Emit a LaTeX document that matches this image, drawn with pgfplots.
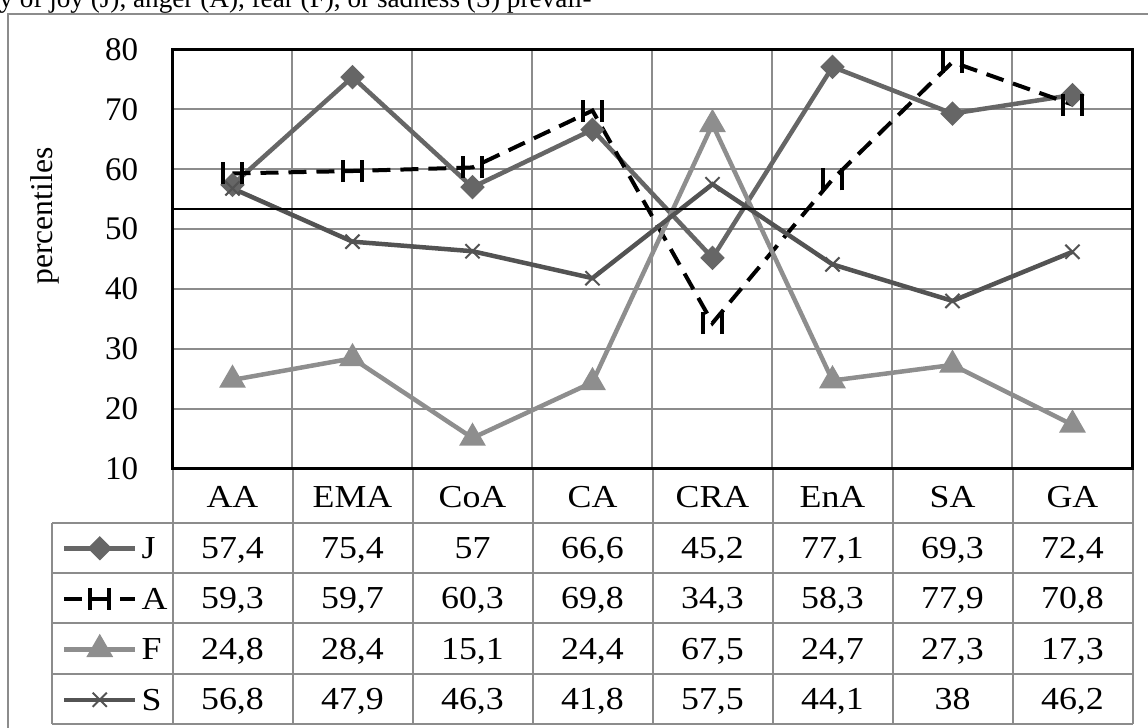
\documentclass[border=0pt]{standalone}
\usepackage{fontspec}
\setmainfont{Liberation Serif}
\newfontfamily\tabfont{Liberation Serif}[FakeStretch=1.12]
\usepackage{pgfplots}
\pgfplotsset{compat=1.18}

\definecolor{jcol}{HTML}{666666}
\definecolor{fcol}{HTML}{8E8E8E}
\definecolor{scol}{HTML}{535353}
\definecolor{gridc}{HTML}{8C8C8C}

% two short vertical bars, the way the "dash" marker of series A comes out
\pgfdeclareplotmark{bars}{%
  \pgfpathmoveto{\pgfqpoint{-0.86\pgfplotmarksize}{-\pgfplotmarksize}}%
  \pgfpathlineto{\pgfqpoint{-0.86\pgfplotmarksize}{\pgfplotmarksize}}%
  \pgfpathmoveto{\pgfqpoint{0.86\pgfplotmarksize}{-\pgfplotmarksize}}%
  \pgfpathlineto{\pgfqpoint{0.86\pgfplotmarksize}{\pgfplotmarksize}}%
  \pgfusepathqstroke}

\begin{document}
\begin{tikzpicture}
\begin{scope}[x=0.5pt,y=-0.5pt]
  \useasboundingbox (0,0) rectangle (1148,728);
  % end of the text line above the figure, cut at the top
  \node[anchor=base west, inner sep=0pt, font=\fontsize{13.6}{16}\selectfont]
    at (-1,8) {y of joy (J), anger (A), fear (F), or sadness (S) prevail-};
  % chart area frame
  \draw[gridc, line width=1pt] (8,740) -- (8,14) -- (1160,14);
  % data table grid
  \draw[gridc, line width=1pt] (52,523) -- (52,724);
  \foreach \x in {172.5,292.5,...,1132.5} \draw[gridc, line width=1pt] (\x,468.5) -- (\x,724);
  \foreach \y in {523,573,623,674,724} \draw[gridc, line width=1pt] (52,\y) -- (1132.5,\y);
  % y label
  \node[rotate=90, font=\fontsize{15.8}{18}\selectfont] at (45,216) {percentiles};
  % table text
  \begin{scope}[font=\tabfont\fontsize{16}{19}\selectfont, every node/.style={anchor=base, inner sep=0pt}]
    \foreach \c [count=\i from 0] in {AA,EMA,CoA,CA,CRA,EnA,SA,GA}
      \node at ({232.5+120*\i},507.5) {\c};
    \foreach \v [count=\i from 0] in {{57,4},{75,4},{57},{66,6},{45,2},{77,1},{69,3},{72,4}}
      \node at ({232.5+120*\i},558.8) {\v};
    \foreach \v [count=\i from 0] in {{59,3},{59,7},{60,3},{69,8},{34,3},{58,3},{77,9},{70,8}}
      \node at ({232.5+120*\i},608.8) {\v};
    \foreach \v [count=\i from 0] in {{24,8},{28,4},{15,1},{24,4},{67,5},{24,7},{27,3},{17,3}}
      \node at ({232.5+120*\i},659.3) {\v};
    \foreach \v [count=\i from 0] in {{56,8},{47,9},{46,3},{41,8},{57,5},{44,1},{38},{46,2}}
      \node at ({232.5+120*\i},709.8) {\v};
  \end{scope}
\end{scope}

\begin{axis}[
  at={(86.25pt,-234.25pt)}, anchor=south west,
  width=480pt, height=209.5pt, scale only axis,
  xmin=-0.5, xmax=7.5, ymin=10, ymax=80,
  xtick={0.5,1.5,...,6.5}, xticklabels={},
  ytick={10,20,...,80},
  xmajorgrids, ymajorgrids,
  grid style={gridc, line width=1pt},
  major tick length=0pt,
  axis line style={black, line width=1.6pt},
  tick label style={font=\fontsize{16.5}{19}\selectfont},
  yticklabel style={inner sep=0pt, xshift=-17pt},
  /pgf/number format/assume math mode=true,
  legend cell align=left,
  legend style={at={(-0.1255,-0.1301)}, anchor=north west,
    draw=none, fill=none, inner sep=0pt, outer sep=0pt,
    row sep=0pt, column sep=0pt,
    font=\tabfont\fontsize{16}{19}\selectfont,
    nodes={inner sep=0pt, inner xsep=2pt, text height=17.9pt, text depth=7.35pt}},
  legend image code/.code={%
    \path (0pt,0pt) (40.5pt,0pt);
    \draw[mark repeat=2, mark phase=2, #1] plot coordinates {(5pt,0pt) (22.75pt,0pt) (40.5pt,0pt)};},
]
\addplot[jcol, line width=2.25pt, mark=square*, mark size=3.2pt, mark options={rotate=45}]
  coordinates {(0,57.4) (1,75.4) (2,57) (3,66.6) (4,45.2) (5,77.1) (6,69.3) (7,72.4)};
\addlegendentry{J}
\addplot[black, line width=2pt, dash pattern=on 9pt off 5pt, mark=bars, mark size=5.5pt, mark options={solid}]
  coordinates {(0,59.3) (1,59.7) (2,60.3) (3,69.8) (4,34.3) (5,58.3) (6,77.9) (7,70.8)};
\addlegendentry{A}
\addplot[fcol, line width=2.25pt, mark=triangle*, mark size=5.5pt]
  coordinates {(0,24.8) (1,28.4) (2,15.1) (3,24.4) (4,67.5) (5,24.7) (6,27.3) (7,17.3)};
\addlegendentry{F}
\addplot[scol, line width=2.25pt, mark=x, mark size=5pt, mark options={line width=1pt}]
  coordinates {(0,56.8) (1,47.9) (2,46.3) (3,41.8) (4,57.5) (5,44.1) (6,38) (7,46.2)};
\addlegendentry{S}
\addplot[black, line width=1pt, forget plot] coordinates {(-0.5,53.3) (7.5,53.3)};
\end{axis}
\end{tikzpicture}
\end{document}
